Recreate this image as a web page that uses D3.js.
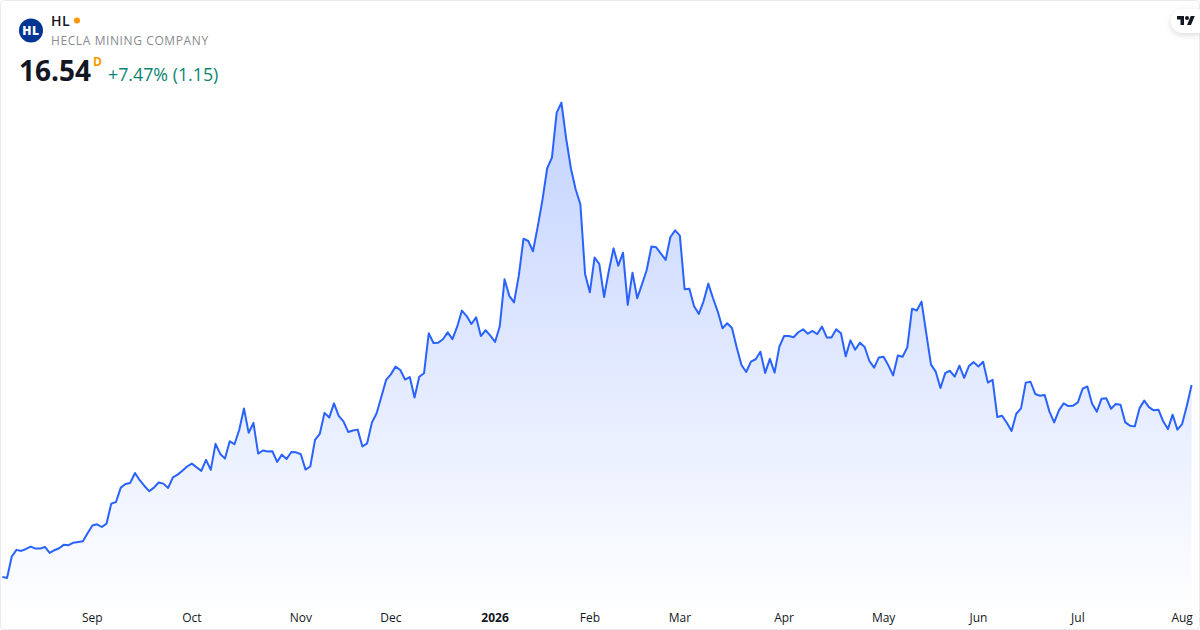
<!DOCTYPE html>
<html>
<head>
<meta charset="utf-8">
<script src="https://cdn.jsdelivr.net/npm/d3@7"></script>
<style>
  html, body { margin: 0; padding: 0; background: #fff; }
  svg { display: block; font-family: "Open Sans", sans-serif; }
</style>
</head>
<body>
<div id="chart"></div>
<script>
// Daily closes, one per trading day
const closes = [
  5.88, 5.82, 7.01, 7.38, 7.32, 7.43, 7.56, 7.45, 7.45, 7.54, 7.21, 7.36, 7.47, 7.67, 7.64, 7.78, 7.82, 7.86, 8.30, 8.73,
  8.80, 8.65, 8.84, 9.95, 10.04, 10.84, 11.04, 11.10, 11.65, 11.25, 10.93, 10.64, 10.84, 11.12, 11.06, 10.82, 11.41, 11.56, 11.77, 12.01,
  12.17, 11.97, 11.77, 12.38, 11.82, 13.27, 12.71, 12.45, 13.41, 13.25, 14.04, 15.23, 13.88, 14.43, 12.73, 12.90, 12.84, 12.86, 12.27, 12.67,
  12.43, 12.82, 12.80, 12.69, 11.84, 12.01, 13.49, 13.82, 14.99, 14.73, 15.52, 14.82, 14.52, 13.93, 14.01, 14.06, 13.12, 13.30, 14.45, 14.97,
  15.89, 16.82, 17.13, 17.56, 17.37, 16.84, 16.98, 15.84, 17.00, 17.19, 19.41, 18.87, 18.89, 19.08, 19.46, 19.09, 19.78,
  20.67, 20.37, 19.93, 20.30, 19.26, 19.58, 19.28, 18.93, 19.82, 22.41, 21.49, 21.13, 22.60, 24.67, 24.54, 23.97, 25.34, 26.82, 28.58, 29.17,
  31.67, 32.23, 30.24, 28.58, 27.41, 26.58, 22.69, 21.69, 23.62, 23.26, 21.43, 22.87, 24.13, 23.17, 23.89, 20.99, 22.78, 21.36, 22.13, 22.93,
  24.23, 24.19, 23.84, 23.49, 24.76, 25.13, 24.84, 21.86, 21.89, 20.91, 20.49, 21.19, 22.17, 21.36, 20.62, 19.69, 19.97, 19.71, 18.62, 17.65,
  17.26, 17.84, 17.97, 18.39, 17.21, 17.99, 17.23, 18.67, 19.26, 19.26, 19.19, 19.47,
  19.63, 19.39, 19.54, 19.37, 19.78, 19.18, 19.18, 19.63, 19.41, 18.13, 19.02, 18.50, 18.89, 18.65, 17.87, 17.50, 18.07, 18.11, 17.63, 17.07,
  18.18, 18.11, 18.63, 20.78, 20.68, 21.17, 19.41, 17.67, 17.28, 16.37, 17.20, 17.33, 17.00, 17.61, 16.94, 17.59, 17.81, 17.57, 17.83, 16.67,
  16.83, 14.76, 14.83, 14.44, 13.98, 14.94, 15.24, 16.67, 16.72, 16.04, 15.94, 15.98, 15.06, 14.46, 15.13, 15.52, 15.37, 15.39, 15.57, 16.33,
  16.46, 15.50, 15.06, 15.78, 15.80, 15.22, 15.48, 15.44, 14.46, 14.28, 14.24, 15.24, 15.67, 15.31, 15.13, 15.17, 14.52, 14.09, 14.89, 14.06,
  14.37, 15.39, 16.54
];

// Month labels and the trading day each one falls on
const tickLabels = ["Sep", "Oct", "Nov", "Dec", "2026", "Feb", "Mar", "Apr", "May", "Jun", "Jul", "Aug"];
const tickDays = [19, 40, 63, 82, 104, 124, 143, 165, 186, 206, 227, 249];

const symbol = "HL";
const company = "HECLA MINING COMPANY";
const lastPrice = "16.54";
const change = "+7.47% (1.15)";

const width = 1200;
const height = 630;

const svg = d3.select("#chart").append("svg")
    .attr("width", width)
    .attr("height", height);

const x = d3.scaleLinear().domain([0, closes.length - 1]).range([2.3, 1191.6]);
const y = d3.scaleLinear().domain([5, 35]).range([592.7, 52.7]);

// Degrade sous la courbe
const grad = svg.append("defs").append("linearGradient")
    .attr("id", "fade")
    .attr("gradientUnits", "userSpaceOnUse")
    .attr("x1", 0).attr("x2", 0)
    .attr("y1", y(d3.max(closes))).attr("y2", 618);
grad.append("stop").attr("offset", 0).attr("stop-color", "#2962ff").attr("stop-opacity", 0.28);
grad.append("stop").attr("offset", 1).attr("stop-color", "#2962ff").attr("stop-opacity", 0);

const area = d3.area().x((d, i) => x(i)).y0(628).y1(d => y(d));
const line = d3.line().x((d, i) => x(i)).y(d => y(d));

svg.append("path").datum(closes)
    .attr("d", area)
    .attr("fill", "url(#fade)");

svg.append("path").datum(closes)
    .attr("d", line)
    .attr("fill", "none")
    .attr("stroke", "#2962ff")
    .attr("stroke-width", 2)
    .attr("stroke-linejoin", "round");

// Axe du temps
const axis = d3.axisBottom(x)
    .tickValues(tickDays)
    .tickSize(0)
    .tickPadding(0)
    .tickFormat((d, i) => tickLabels[i]);

const axisG = svg.append("g")
    .attr("transform", "translate(-0.5,613)")
    .call(axis);
axisG.select(".domain").remove();
axisG.selectAll("text")
    .attr("fill", "#131722")
    .style("font-family", '"Open Sans", sans-serif')
    .style("font-size", "12px")
    .style("font-weight", (d, i) => tickLabels[i] === "2026" ? 700 : 400);

// Bordure de la carte
svg.append("rect")
    .attr("x", 0.5).attr("y", 0.5)
    .attr("width", width - 1).attr("height", height - 1)
    .attr("rx", 4)
    .attr("fill", "none")
    .attr("stroke", "#e9e9ea");

// En-tete : logo, symbole, prix
svg.append("circle").attr("cx", 31).attr("cy", 30.5).attr("r", 12).attr("fill", "#003594");
svg.append("text").attr("x", 31).attr("y", 34.7)
    .attr("text-anchor", "middle")
    .attr("fill", "#fff")
    .attr("font-size", 12)
    .attr("font-weight", 800)
    .attr("letter-spacing", 0.6)
    .text(symbol);

svg.append("text").attr("x", 51).attr("y", 26)
    .attr("fill", "#131722")
    .attr("font-size", 14)
    .attr("font-weight", 600)
    .attr("letter-spacing", 0.4)
    .text(symbol);
svg.append("circle").attr("cx", 77).attr("cy", 20.5).attr("r", 3).attr("fill", "#ff9800");

svg.append("text").attr("x", 51).attr("y", 45)
    .attr("fill", "#8a8a8f")
    .attr("font-size", 12)
    .attr("letter-spacing", 0.6)
    .text(company);

svg.append("text").attr("x", 19).attr("y", 81)
    .attr("fill", "#131722")
    .attr("font-size", 28)
    .attr("font-weight", 700)
    .text(lastPrice);
svg.append("text").attr("x", 93).attr("y", 66)
    .attr("fill", "#ff9800")
    .attr("font-size", 12)
    .attr("font-weight", 700)
    .text("D");
svg.append("text").attr("x", 108).attr("y", 81)
    .attr("fill", "#0b8572")
    .attr("font-size", 17.8)
    .text(change);

// Onglet du logo en haut a droite
const tab = svg.append("g");
const shadow = svg.select("defs").append("filter")
    .attr("id", "tabShadow")
    .attr("x", "-30%").attr("y", "-30%").attr("width", "160%").attr("height", "160%");
shadow.append("feDropShadow")
    .attr("dx", 0).attr("dy", 2).attr("stdDeviation", 3)
    .attr("flood-color", "#000").attr("flood-opacity", 0.15);
tab.append("path")
    .attr("d", "M1200 9H1183a12 12 0 0 0 -12 12a12 12 0 0 0 12 12H1200Z")
    .attr("fill", "#fff")
    .attr("filter", "url(#tabShadow)");
const mark = tab.append("g")
    .attr("transform", "translate(1177,14) scale(0.5)")
    .attr("fill", "#131722");
mark.append("path").attr("d", "M14 22H7V11H0V4h14v18zM28 22h-8l7.5-18h8L28 22z");
mark.append("circle").attr("cx", 20).attr("cy", 8).attr("r", 4);
</script>
</body>
</html>
